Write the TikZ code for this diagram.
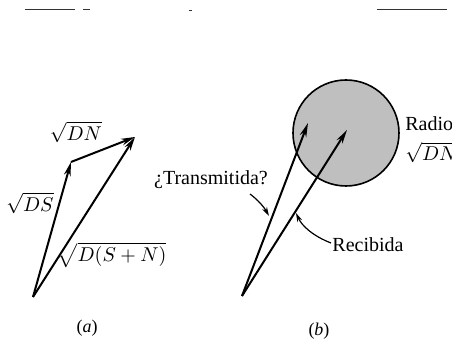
\documentclass[tikz,border=0pt]{standalone}
\usepackage{fontspec}
\setmainfont{Liberation Serif}
\usetikzlibrary{arrows.meta,positioning}
\tikzset{
  vec/.style={draw, line width=1pt, -{Stealth[length=7pt,width=3.4pt]}},
  ptr/.style={draw, line width=0.6pt, -{Stealth[length=4.5pt,width=2.6pt]}},
  lbl/.style={inner sep=1pt, font=\normalsize},
  sublbl/.style={inner sep=1pt, font=\small},
  noise/.style={draw, line width=0.8pt, circle, fill=black!25, minimum size=53pt, inner sep=0pt},
  rule/.style={draw, line width=0.4pt, black!80}
}
\begin{document}
\begin{tikzpicture}[x=0.5pt, y=-0.5pt]
  \useasboundingbox (0,0) rectangle (452,340);
  % marcas de la cabecera
  \draw[rule] (25,9) -- (75,9) (83,9) -- (90,9) (189,10) -- (192,10) (377,9) -- (447,9);

  % (a) suma de vectores
  \coordinate (Oa) at (33,297);
  \coordinate (DS) at (71,162);
  \coordinate (DN) at (135,137);
  \draw[vec] (Oa) -- (DS);
  \draw[vec] (DS) -- (DN);
  \draw[vec] (Oa) -- (DN);
  \node[lbl] (lDN) at (76,132) {$\sqrt{DN}$};
  \node[lbl] (lDS) at (30,203) {$\sqrt{DS}$};
  \node[lbl] (lSN) at (112,255) {$\sqrt{D(S+N)}$};
  \node[sublbl] (ca) at (87,328) {(\textit{a})};

  % (b) circulo de ruido
  \node[noise] (ruido) at (346,133) {};
  \coordinate (Ob) at (242,296);
  \coordinate (tx) at (308,123);
  \coordinate (rx) at (347,130);
  \draw[vec] (Ob) -- (tx);
  \draw[vec] (Ob) -- (rx);
  \node[lbl] (ltx) at (211,180) {¿Transmitida?};
  \node[lbl] (lrx) at (368,245) {Recibida};
  \node[lbl, inner sep=0pt, anchor=west, align=left] (lrad) at (405,140) {Radio\\[3pt]$\sqrt{DN}$};
  \coordinate (ptA) at (250,194);
  \coordinate (ptB) at (269,216);
  \coordinate (prA) at (331,243);
  \coordinate (prB) at (296,213);
  \draw[ptr] (ptA) .. controls (258,200) and (264,207) .. (ptB);
  \draw[ptr] (prA) .. controls (313,236) and (302,226) .. (prB);
  \node[sublbl] (cb) at (319,331) {(\textit{b})};
\end{tikzpicture}
\end{document}
